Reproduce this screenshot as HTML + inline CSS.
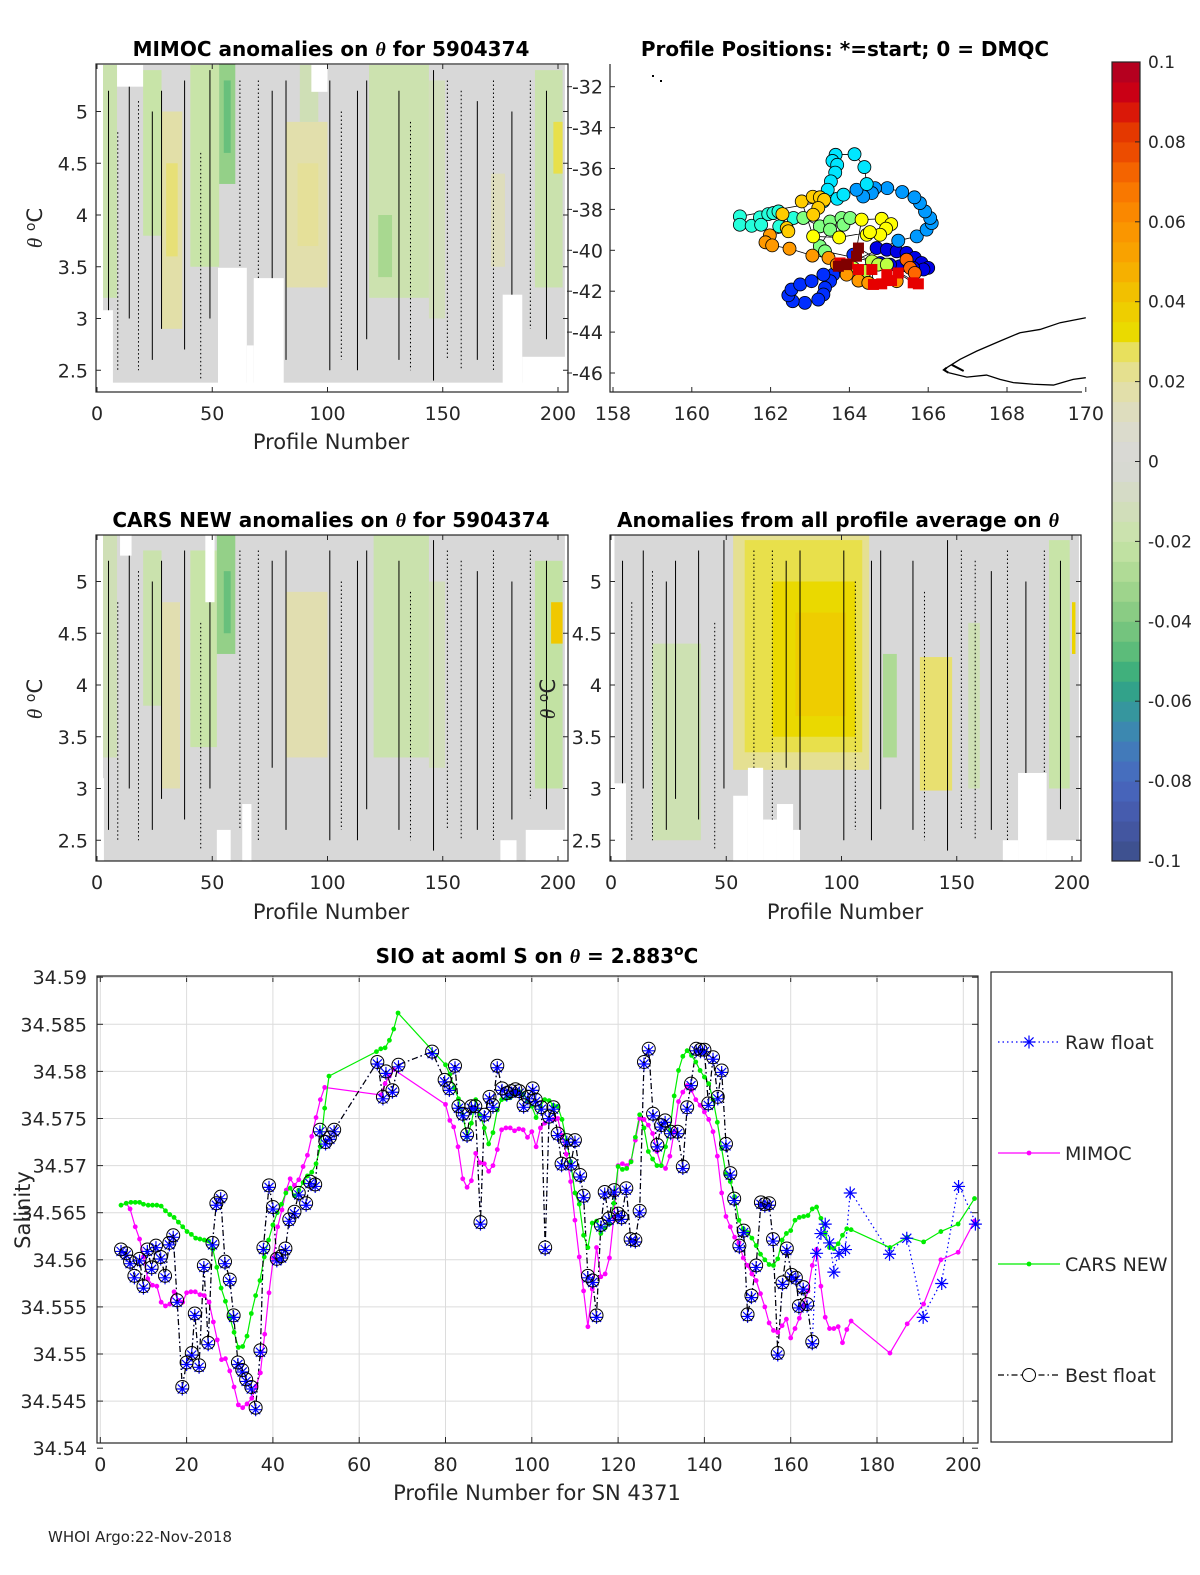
<!DOCTYPE html>
<html><head><meta charset="utf-8"><style>
html,body{margin:0;padding:0;background:#fff;overflow:hidden;width:1200px;height:1575px}
svg{display:block}
svg text{font-family:"DejaVu Sans","Liberation Sans",sans-serif;fill:#262626}
.t{font-weight:bold;font-size:20px;fill:#000}
</style></head><body>
<svg id="fig" width="1200" height="1575" viewBox="0 0 1200 1575" xmlns="http://www.w3.org/2000/svg">
<rect width="1200" height="1575" fill="#fff"/>
<g id="p1"></g>
<g id="p2"></g>
<g id="p3"></g>
<g id="p4"></g>
<g id="cb"></g>
<g id="sal"></g>
<text x="331" y="56" text-anchor="middle" class="t">MIMOC anomalies on <tspan font-style="italic" font-family="Liberation Serif">θ</tspan>  for 5904374</text>
<text x="845" y="56" text-anchor="middle" class="t">Profile Positions: *=start; 0 = DMQC</text>
<text x="331" y="527" text-anchor="middle" class="t">CARS NEW anomalies on <tspan font-style="italic" font-family="Liberation Serif">θ</tspan> for 5904374</text>
<text x="838" y="527" text-anchor="middle" class="t">Anomalies from all profile average on <tspan font-style="italic" font-family="Liberation Serif">θ</tspan></text>
<text x="537" y="963" text-anchor="middle" class="t">SIO at aoml S on <tspan font-style="italic" font-family="Liberation Serif">θ</tspan> = 2.883<tspan dy="-8" font-size="14">o</tspan><tspan dy="8">C</tspan></text>
<text x="331" y="449" text-anchor="middle" font-size="21">Profile Number</text>
<text x="331" y="919" text-anchor="middle" font-size="21">Profile Number</text>
<text x="845" y="919" text-anchor="middle" font-size="21">Profile Number</text>
<text x="537" y="1500" text-anchor="middle" font-size="21">Profile Number for SN 4371</text>
<text transform="translate(42,228) rotate(-90)" text-anchor="middle" font-size="21"><tspan font-style="italic" font-family="Liberation Serif">θ</tspan> <tspan dy="-7" font-size="14">o</tspan><tspan dy="7">C</tspan></text>
<text transform="translate(42,699) rotate(-90)" text-anchor="middle" font-size="21"><tspan font-style="italic" font-family="Liberation Serif">θ</tspan> <tspan dy="-7" font-size="14">o</tspan><tspan dy="7">C</tspan></text>
<text transform="translate(555,699) rotate(-90)" text-anchor="middle" font-size="21"><tspan font-style="italic" font-family="Liberation Serif">θ</tspan> <tspan dy="-7" font-size="14">o</tspan><tspan dy="7">C</tspan></text>
<text transform="translate(30,1210) rotate(-90)" text-anchor="middle" font-size="21">Salinity</text>
<text x="48" y="1542" font-size="15" fill="#000">WHOI Argo:22-Nov-2018</text>
</svg>
<script>
// ===== Salinity chart data =====
const bestX=[4.8,6,6.9,7.9,9.1,10,10.9,11.9,12.9,14,15,16,16.9,17.8,19,20,21.2,21.9,22.9,24,25,26,26.9,27.9,28.9,30,30.9,31.9,32.9,33.8,35,36,37.1,37.8,39.1,40,40.9,42,42.9,43.8,45,46,47.7,48.6,49.8,50.9,52.2,53.2,54.2,64.2,65.5,66.2,67.7,69.1,76.9,79.8,80.9,82.2,83,84,85,86,86.9,88.1,89,90.2,91,92,93.1,94.2,95.2,96.2,97.1,98.1,99.1,100.2,100.9,102.2,103.1,104,105,106,106.9,108.1,109.1,110,111.2,112,113,114.1,115,116,116.9,117.9,119.1,120,120.8,121.9,122.9,124,125,126,127.1,128.1,129.1,130,130.9,132.2,133.8,135,136,136.9,138.1,139.1,140,140.9,142,143.1,144,145,146,146.9,148.1,149.1,150,150.9,152,153.1,154,155,155.9,157,158.1,159.1,160.2,161.2,161.9,162.9,163.8,165];
const bestV=[34.5611,34.5607,34.5598,34.5583,34.5601,34.5572,34.5611,34.5592,34.5615,34.5603,34.5583,34.5618,34.5626,34.5557,34.5465,34.5491,34.5501,34.5543,34.5488,34.5594,34.5512,34.5618,34.566,34.5667,34.5598,34.5579,34.5541,34.5491,34.5483,34.5473,34.5465,34.5443,34.5504,34.5613,34.5679,34.5656,34.5601,34.5604,34.5612,34.5643,34.5651,34.5671,34.566,34.5683,34.568,34.5738,34.5725,34.573,34.5738,34.581,34.5773,34.58,34.578,34.5807,34.5821,34.5791,34.5782,34.5806,34.5763,34.5755,34.5733,34.5763,34.5763,34.564,34.5754,34.5773,34.5764,34.5806,34.5782,34.5777,34.5779,34.5781,34.5779,34.5764,34.5773,34.5782,34.577,34.5762,34.5613,34.5752,34.5762,34.5734,34.5702,34.5727,34.5702,34.5727,34.569,34.5668,34.5583,34.5578,34.5541,34.5637,34.5672,34.5644,34.5674,34.5649,34.5645,34.5676,34.5622,34.5621,34.5652,34.581,34.5824,34.5755,34.5722,34.5743,34.5748,34.5736,34.5736,34.5699,34.5762,34.5787,34.5824,34.5823,34.5823,34.5766,34.5815,34.5773,34.5801,34.5723,34.5692,34.5665,34.5615,34.5631,34.5542,34.5562,34.5594,34.5661,34.5659,34.566,34.5622,34.5501,34.5576,34.5612,34.5584,34.5581,34.5551,34.5571,34.5553,34.5513];
const rawX=bestX.concat([166,167,168,169,170,171.2,172.7,173.8,182.9,186.9,190.7,195,198.9,202.8]);
const rawV=bestV.concat([34.5609,34.563,34.564,34.562,34.5589,34.5609,34.5613,34.5673,34.5608,34.5625,34.5541,34.5577,34.568,34.564]);
const mimX=[6,6.9,8.1,9.1,10,11,12.1,13.1,14.1,15.1,16.1,17.1,18.1,19.1,20,21,22,23.1,24.1,25.2,26.2,27.1,28.1,29,30,31,32,33,34,35.1,36.1,37.1,38.1,39.1,40.1,41.1,42.1,43.1,44,45,46,47,48,49,50,51,52,65,66,67,68,80,81,81.9,82.9,84,85,86,87,88,89,90,91,92,93,94,95,96,97,98,99,100,101,102,103,104,105,106,107,108,109,110,111,112,113,114,115,116,117,118,119,120,121,122,123,124,125,126,127,128,129,130,131,132,133,134,135,136,137,138,139,140,141,142,143,144,145,146,147,148,149,150,151,152,153,154,155,156,157,158,159,160,161,162,163,164,165,166,167,168,169,170,171,172,173,174,183,187,190.8,194.8,198.8,202.6];
const mimV=[34.566,34.5654,34.5635,34.5622,34.5603,34.558,34.5573,34.5572,34.5555,34.5551,34.5553,34.5566,34.5557,34.5555,34.5565,34.5566,34.5566,34.5563,34.5562,34.5555,34.5534,34.5515,34.5494,34.5495,34.5482,34.5465,34.5446,34.5443,34.5447,34.5453,34.5466,34.548,34.5521,34.5565,34.5602,34.5635,34.5653,34.5674,34.5686,34.5679,34.5685,34.5699,34.5711,34.5731,34.5751,34.577,34.5783,34.5775,34.5787,34.5795,34.5802,34.5765,34.5748,34.5741,34.572,34.5686,34.5677,34.5684,34.5713,34.5703,34.5702,34.5694,34.57,34.5717,34.5738,34.574,34.574,34.5737,34.5739,34.5738,34.573,34.5736,34.572,34.574,34.5745,34.5749,34.5749,34.575,34.5732,34.5712,34.5683,34.5642,34.5603,34.5567,34.5529,34.5569,34.5613,34.5582,34.5585,34.5602,34.5645,34.57,34.5702,34.57,34.5705,34.5727,34.575,34.5749,34.5743,34.5734,34.5715,34.57,34.5697,34.571,34.5736,34.5768,34.5778,34.5785,34.578,34.577,34.5764,34.5757,34.5749,34.5736,34.571,34.5671,34.5646,34.5635,34.5624,34.5618,34.5602,34.5594,34.5585,34.5578,34.5564,34.555,34.5533,34.5525,34.5523,34.553,34.5537,34.5517,34.5527,34.5538,34.5552,34.5567,34.5594,34.5611,34.5572,34.5539,34.5527,34.5527,34.5529,34.5512,34.5526,34.5535,34.5501,34.5532,34.5553,34.56,34.5608,34.5641];
const carsX=[4.8,6,7.1,8.1,9.1,10,11.1,12.1,13.1,14.1,15.1,16.1,17.1,18.1,19.1,20.1,21.1,22.1,23.1,24.1,25.1,26.1,27,28,29,30,31,32,33,34,35,36,37,38,39,40,41,42,43,44,45,46,47,48,49,50,51,52,53,64,65,66,67,68,69,80,81,82,83,84,85,86,87,88,89,90,91,92,93,94,95,96,97,98,99,100,101,102,103,104,105,106,107,108,109,110,111,112,113,114,115,116,117,118,119,120,121,122,123,124,125,126,127,128,129,130,131,132,133,134,135,136,137,138,139,140,141,142,143,144,145,146,147,148,149,150,151,152,153,154,155,156,157,158,159,160,161,162,163,164,165,166,167,168,169,170,171,172,173,174,183,187,190.8,194.8,198.8,202.6];
const carsV=[34.5658,34.566,34.5661,34.5661,34.5661,34.5659,34.5658,34.5658,34.5658,34.5657,34.5652,34.5648,34.5645,34.564,34.5635,34.563,34.5627,34.5623,34.5622,34.5621,34.562,34.5611,34.5592,34.557,34.5556,34.5539,34.5523,34.5507,34.5508,34.5519,34.5543,34.5562,34.5578,34.5603,34.5621,34.5637,34.565,34.5659,34.5671,34.5676,34.5668,34.5674,34.5682,34.5689,34.5693,34.5702,34.572,34.5761,34.5795,34.5821,34.5824,34.5825,34.5833,34.5845,34.5862,34.5807,34.5797,34.5783,34.5771,34.5754,34.573,34.5745,34.577,34.5754,34.574,34.5723,34.5735,34.5759,34.577,34.5771,34.5772,34.5776,34.5779,34.5776,34.5769,34.5763,34.5751,34.5763,34.577,34.5769,34.5764,34.5763,34.5749,34.5727,34.5704,34.5671,34.5659,34.5626,34.5613,34.5639,34.5641,34.5628,34.5634,34.5638,34.566,34.5699,34.5696,34.5697,34.5704,34.573,34.5754,34.574,34.5715,34.5707,34.57,34.57,34.572,34.5737,34.5774,34.5801,34.5816,34.5822,34.5817,34.581,34.5801,34.5794,34.5787,34.577,34.5746,34.5718,34.5691,34.5683,34.5667,34.5642,34.5633,34.5629,34.5623,34.5615,34.5606,34.56,34.5595,34.5594,34.5601,34.5621,34.5628,34.5631,34.5642,34.5645,34.5646,34.5647,34.5654,34.5656,34.5644,34.5628,34.5613,34.5612,34.5617,34.5626,34.5633,34.5632,34.5613,34.5624,34.5619,34.563,34.5638,34.5665];
const salYTicks=[34.54,34.545,34.55,34.555,34.56,34.565,34.57,34.575,34.58,34.585,34.59];
const salYLabels=["34.54","34.545","34.55","34.555","34.56","34.565","34.57","34.575","34.58","34.585","34.59"];
const salXTicks=[0,20,40,60,80,100,120,140,160,180,200];
const legendLabels=["Raw float","MIMOC","CARS NEW","Best float"];

// ===== Map data =====
const mapLonTicks=[158,160,162,164,166,168,170];
const mapLatTicks=[-32,-34,-36,-38,-40,-42,-44,-46];
const posLon=[164.69,164.95,165.2,165.45,165.66,165.83,166.0,165.88,165.62,165.28,165.03,164.78,
164.1,163.85,163.59,163.51,163.38,163.34,163.21,162.87,162.56,162.45,162.53,162.75,163.04,163.34,
165.24,165.71,165.96,166.09,166.05,165.92,165.79,165.65,165.34,164.96,164.65,164.57,164.35,164.18,
164.44,164.38,164.13,163.65,163.57,163.69,163.64,163.53,163.45,163.69,163.85,163.34,
161.22,161.22,161.52,161.73,161.76,161.94,162.07,162.2,162.22,162.58,
162.83,163.25,163.51,163.8,163.85,164.02,163.51,163.25,163.38,
164.57,164.73,164.95,164.4,164.1,
164.31,164.82,165.06,164.93,164.78,164.44,164.52,163.74,163.08,
162.79,163.07,163.25,163.36,163.21,163.08,162.3,162.41,162.45,
161.98,161.87,162.04,162.48,163.06,163.47,163.68,163.93,164.23,164.48,165.2,165.45,165.54,165.66,
163.76,163.97,164.23,164.57,164.61,164.82,164.95,165.07,165.24,165.62,165.75,
164.23,164.18,163.72,163.93];
const posLat=[-39.89,-39.97,-40.05,-40.13,-40.37,-40.62,-40.86,-40.94,-40.86,-40.78,-40.7,-40.62,
-40.21,-40.86,-41.19,-41.51,-41.84,-42.16,-42.41,-42.57,-42.49,-42.2,-41.92,-41.67,-41.51,-41.19,
-39.53,-39.32,-38.99,-38.67,-38.42,-38.1,-37.69,-37.41,-37.15,-36.96,-36.96,-37.2,-37.37,-37.04,
-36.76,-35.93,-35.3,-35.33,-35.63,-35.82,-36.2,-36.63,-37.04,-37.48,-37.28,-37.61,
-38.34,-38.75,-38.8,-38.39,-38.75,-38.23,-38.18,-38.1,-38.83,-38.42,
-38.42,-38.83,-38.59,-38.42,-38.75,-38.42,-38.99,-39.8,-40.05,
-40.54,-40.7,-40.7,-41.02,-40.86,
-38.5,-38.46,-38.72,-38.94,-39.24,-39.24,-39.11,-39.37,-39.32,
-37.61,-37.38,-37.41,-37.53,-37.93,-38.26,-38.23,-38.91,-39.07,
-39.27,-39.61,-39.76,-39.92,-40.26,-40.37,-40.7,-41.19,-41.48,-41.59,-41.51,-40.46,-40.86,-41.11,
-40.62,-40.67,-40.94,-40.94,-41.67,-41.64,-41.19,-41.48,-41.11,-41.59,-41.64,
-39.89,-40.29,-40.78,-40.7];
const posVal=[-0.08,-0.08,-0.08,-0.08,-0.08,-0.08,-0.08,-0.08,-0.08,-0.08,-0.08,-0.08,
-0.066,-0.066,-0.066,-0.066,-0.066,-0.066,-0.066,-0.066,-0.066,-0.066,-0.066,-0.066,-0.066,-0.066,
-0.045,-0.045,-0.045,-0.045,-0.045,-0.045,-0.045,-0.045,-0.045,-0.045,-0.045,-0.045,-0.045,-0.045,
-0.03,-0.03,-0.03,-0.03,-0.03,-0.03,-0.03,-0.03,-0.03,-0.03,-0.03,-0.03,
-0.018,-0.018,-0.018,-0.018,-0.018,-0.018,-0.018,-0.018,-0.018,-0.018,
0,0,0,0,0,0,0,0,0,
0.012,0.012,0.012,0.012,0.012,
0.025,0.025,0.025,0.025,0.025,0.025,0.025,0.025,0.025,
0.035,0.035,0.035,0.035,0.035,0.035,0.035,0.035,0.035,
0.045,0.045,0.045,0.045,0.045,0.045,0.045,0.045,0.045,0.045,0.045,0.055,0.055,0.055,
0.08,0.08,0.08,0.08,0.08,0.08,0.08,0.08,0.08,0.08,0.08,
0.1,0.1,0.1,0.1];
const coastUpLon=[166.47,166.81,167.23,167.82,168.33,168.84,169.35,170.0];
const coastUpLat=[-45.74,-45.33,-44.93,-44.44,-44.03,-43.87,-43.54,-43.3];
const coastLoLon=[166.51,166.98,167.48,167.82,168.16,168.67,169.18,169.68,170.0];
const coastLoLat=[-45.98,-46.2,-46.1,-46.31,-46.47,-46.55,-46.59,-46.31,-46.23];

// ===== Anomaly heatmap patches: [p0,p1,theta0,theta1,value] =====
const p1Base=[[2.6,203,2.38,5.45,0]];
const p1Patches=[[2.6,8.7,3.2,5.45,-0.018],[20,28,3.8,5.4,-0.02],[40.5,53,3.5,5.45,-0.02],[53,60,4.3,5.5,-0.035],[55,58,4.6,5.3,-0.045],[28,37,2.9,5.0,0.018],[30,35,3.6,4.5,0.026],[82,100,3.3,4.9,0.017],[87,96,3.7,4.5,0.021],[118,144,3.2,5.45,-0.017],[122,128,3.4,4.0,-0.03],[144,151,3.0,5.3,-0.012],[171,177,3.5,4.4,0.013],[190,202,3.3,5.4,-0.018],[198,202,4.4,4.9,0.028],[88,96,4.9,5.45,-0.014]];
const p1Gaps=[[8.7,20,5.24,5.6],[93,100,5.19,5.6],[2.6,6.9,2.2,3.08],[52.5,65,2.2,3.49],[65,68,2.2,2.74],[68,81,2.2,3.39],[176,184.5,2.2,3.23],[184.5,205,2.2,2.63],[0,2.6,2.2,5.6]];
const p3Base=[[2.6,203,2.3,5.45,0]];
const p3Patches=[[2.6,8.7,3.3,5.45,-0.014],[20,28,3.8,5.3,-0.018],[40.5,52,3.4,5.3,-0.02],[52,60,4.3,5.45,-0.035],[55,58,4.5,5.1,-0.045],[28,36,3.0,4.8,0.016],[82,100,3.3,4.9,0.016],[120,144,3.3,5.45,-0.018],[190,202,3.0,5.2,-0.022],[197,202,4.4,4.8,0.04],[144,151,3.2,5.0,-0.012]];
const p3Gaps=[[0,2.6,2.2,5.6],[0,3,2.2,3.1],[10,15,5.25,5.6],[47,51,4.8,5.6],[52,58,2.2,2.6],[63,67,2.2,2.85],[175,182,2.2,2.5],[186,203,2.2,2.6]];
const p4Base=[[0,203,2.3,5.45,0]];
const p4Patches=[[18,39,2.5,4.4,-0.016],[53,112,3.18,5.45,0.022],[58,109,3.35,5.4,0.028],[70,106,3.5,5.0,0.033],[80,102,3.7,4.7,0.038],[134,148,2.98,4.27,0.027],[118,124,3.3,4.3,-0.028],[190,199,3.0,5.4,-0.02],[200,201.5,4.3,4.8,0.035],[155,160,3.0,4.6,-0.015]];
const p4Gaps=[[0,1.5,2.2,5.6],[1,6.5,2.2,3.05],[53,59.4,2.2,2.93],[59.4,66,2.2,3.2],[66,72,2.2,2.7],[72,79,2.2,2.85],[79,82,2.2,2.6],[170,176.6,2.2,2.5],[176.6,189,2.2,3.15],[189,205,2.2,2.5]];
// contour-line traces: [profile, theta0, theta1, dashed(1)/solid(0)]
const contourSeg=[[5,2.6,5.2,0],[9,2.5,4.8,1],[14,3.0,5.3,0],[18,2.5,5.1,1],[24,2.6,5.0,0],[28,2.9,5.2,0],[38,2.7,5.3,0],[45,2.4,4.6,1],[49,3.0,5.4,0],[62,2.6,5.3,1],[70,2.5,5.3,1],[76,3.2,5.2,0],[82,2.6,5.3,0],[101,2.5,5.3,0],[106,2.6,5.0,1],[113,2.5,5.2,0],[117,2.8,5.3,0],[131,2.6,5.2,0],[136,2.5,4.9,1],[146,2.4,5.4,0],[152,2.6,5.3,1],[158,2.5,5.2,1],[165,2.6,5.1,0],[172,2.5,5.3,1],[180,2.7,5.0,0],[188,2.9,5.3,1],[195,2.8,5.2,0]];
const thetaTicks=[2.5,3,3.5,4,4.5,5];
const profTicks=[0,50,100,150,200];
const cbTicks=[-0.1,-0.08,-0.06,-0.04,-0.02,0,0.02,0.04,0.06,0.08,0.1];
const cbLabels=["-0.1","-0.08","-0.06","-0.04","-0.02","0","0.02","0.04","0.06","0.08","0.1"];

const NS="http://www.w3.org/2000/svg";
function mk(tag,attrs,parent){const e=document.createElementNS(NS,tag);for(const k in attrs)e.setAttribute(k,attrs[k]);parent.appendChild(e);return e;}
const stops=[[-0.1,[60,78,136]],[-0.09,[69,88,168]],[-0.08,[72,104,192]],[-0.07,[64,128,184]],[-0.065,[56,144,168]],[-0.055,[48,168,128]],[-0.05,[80,184,120]],[-0.04,[128,200,128]],[-0.03,[168,216,144]],[-0.02,[200,228,168]],[-0.01,[212,220,192]],[0,[216,216,216]],[0.01,[220,220,200]],[0.02,[228,224,160]],[0.027,[232,224,112]],[0.03,[232,224,0]],[0.04,[240,200,0]],[0.05,[248,168,0]],[0.06,[250,144,0]],[0.07,[248,112,0]],[0.08,[232,64,0]],[0.085,[224,48,0]],[0.09,[212,0,16]],[0.1,[170,0,36]]];
function cmap(v){v=Math.max(-0.1,Math.min(0.1,v));for(let i=0;i<stops.length-1;i++){const a=stops[i],b=stops[i+1];if(v<=b[0]){const t=(v-a[0])/(b[0]-a[0]);const c=a[1].map((x,j)=>Math.round(x+(b[1][j]-x)*t));return `rgb(${c[0]},${c[1]},${c[2]})`;}}return "rgb(170,0,36)";}
function jet(v){const t=(v+0.1)/0.2;const r=Math.max(0,Math.min(1,1.5-Math.abs(4*t-3))),g=Math.max(0,Math.min(1,1.5-Math.abs(4*t-2))),b=Math.max(0,Math.min(1,1.5-Math.abs(4*t-1)));return `rgb(${Math.round(r*255)},${Math.round(g*255)},${Math.round(b*255)})`;}

// ===== anomaly panels =====
function anomalyPanel(gid,L,R,T,B,xp0,yth4,base,patches,gaps,tickLabelX){
  const g=document.getElementById(gid);
  const sx=p=>xp0+p*2.305, sy=th=>yth4-(th-4)*103.5;
  const clip=mk('clipPath',{id:gid+'c'},g);mk('rect',{x:L,y:T,width:R-L,height:B-T},clip);
  const d=mk('g',{'clip-path':`url(#${gid}c)`},g);
  base.concat(patches).forEach(p=>{const r=mk('rect',{x:sx(p[0]),y:sy(p[3]),width:sx(p[1])-sx(p[0]),height:sy(p[2])-sy(p[3]),fill:cmap(p[4])},d);
    
    });
  contourSeg.forEach(c=>{const x=sx(c[0]);const l=mk('line',{x1:x,x2:x,y1:sy(c[2]),y2:sy(c[1]),stroke:'#000','stroke-width':1,'stroke-dasharray':c[3]?'1.5 2.5':'none'},d);
    
    });
  gaps.forEach(p=>{const r=mk('rect',{x:sx(p[0]),y:sy(p[3]),width:sx(p[1])-sx(p[0]),height:sy(p[2])-sy(p[3]),fill:'#fff'},d);
    
    });
  mk('rect',{x:L,y:T,width:R-L,height:B-T,fill:'none',stroke:'#262626','stroke-width':1.2},g);
  profTicks.forEach(p=>{const x=sx(p);mk('line',{x1:x,x2:x,y1:B,y2:B-5,stroke:'#262626'},g);mk('line',{x1:x,x2:x,y1:T,y2:T+5,stroke:'#262626'},g);
    const t=mk('text',{x:x,y:B+28,'text-anchor':'middle','font-size':19},g);t.textContent=p;
    
    });
  thetaTicks.forEach(th=>{const y=sy(th);mk('line',{x1:L,x2:L+5,y1:y,y2:y,stroke:'#262626'},g);mk('line',{x1:R,x2:R-5,y1:y,y2:y,stroke:'#262626'},g);
    const t=mk('text',{x:tickLabelX,y:y+7,'text-anchor':'end','font-size':19},g);t.textContent=th;
    
    });
}
anomalyPanel('p1',96,568,64,392,97,215,p1Base,p1Patches,p1Gaps,88);
anomalyPanel('p3',96,568,535,861,97,685,p3Base,p3Patches,p3Gaps,88);
anomalyPanel('p4',610,1081,535,861,611,685,p4Base,p4Patches,p4Gaps,602);

// ===== map =====
(function(){
  const g=document.getElementById('p2');
  const L=610,R=1082,T=64,B=392;
  const sx=lon=>613+(lon-158)*39.4, sy=lat=>86.7-(lat+32)*20.45;
  mk('path',{d:'M'+L+','+T+'V'+B+'H'+R,fill:'none',stroke:'#262626','stroke-width':1.2},g);
  mapLonTicks.forEach(v=>{const x=sx(v);mk('line',{x1:x,x2:x,y1:B,y2:B-5,stroke:'#262626'},g);const t=mk('text',{x:x,y:B+28,'text-anchor':'middle','font-size':19},g);t.textContent=v;
    
    });
  mapLatTicks.forEach(v=>{const y=sy(v);mk('line',{x1:L,x2:L+5,y1:y,y2:y,stroke:'#262626'},g);const t=mk('text',{x:603,y:y+7,'text-anchor':'end','font-size':19},g);t.textContent=v;mk('line',{x1:567,x2:572,y1:y,y2:y,stroke:'#262626'},g);
    
    });
  let pts=posLon.map((v,i)=>sx(v)+','+sy(posLat[i])).join(' ');
  const pl=mk('polyline',{points:pts,fill:'none',stroke:'#000','stroke-width':0.8},g);
  
  
  posLon.forEach((v,i)=>{let e;
    if(posVal[i]>=0.075){e=mk('rect',{x:sx(v)-5.5,y:sy(posLat[i])-5.5,width:11,height:11,fill:jet(posVal[i])},g);}
    else{e=mk('circle',{cx:sx(v),cy:sy(posLat[i]),r:6.5,fill:jet(posVal[i]),stroke:'#000','stroke-width':0.8},g);}
    
    });
  const c1=mk('polyline',{points:coastUpLon.map((v,i)=>sx(v)+','+sy(coastUpLat[i])).join(' '),fill:'none',stroke:'#000','stroke-width':1.3},g);
  
  
  const c2=mk('polyline',{points:coastLoLon.map((v,i)=>sx(v)+','+sy(coastLoLat[i])).join(' '),fill:'none',stroke:'#000','stroke-width':1.3},g);
  
  
  mk('path',{d:`M${sx(166.47)},${sy(-45.74)}L${sx(166.4)},${sy(-45.85)}L${sx(166.51)},${sy(-45.98)}M${sx(166.6)},${sy(-45.6)}L${sx(166.9)},${sy(-45.9)}`,stroke:'#000','stroke-width':2,fill:'none'},g);
  mk('rect',{x:652,y:75,width:2,height:2,fill:'#000'},g);mk('rect',{x:660,y:80,width:2,height:2,fill:'#000'},g);
})();

// ===== colorbar =====
(function(){
  const g=document.getElementById('cb');
  const L=1112,W=28,T=62,B=861;const sy=v=>B-(v+0.1)/0.2*(B-T);
  for(let i=0;i<40;i++){const v0=-0.1+i*0.005;const r=mk('rect',{x:L,y:sy(v0+0.005),width:W,height:sy(v0)-sy(v0+0.005)+0.5,fill:cmap(v0+0.0025)},g);
    
    }
  mk('rect',{x:L,y:T,width:W,height:B-T,fill:'none',stroke:'#262626','stroke-width':1.2},g);
  cbTicks.forEach((v,i)=>{const y=sy(v);mk('line',{x1:L+W,x2:L+W-5,y1:y,y2:y,stroke:'#262626'},g);const t=mk('text',{x:1148,y:y+6,'font-size':17},g);t.textContent=cbLabels[i];
    
    });
})();

// ===== salinity chart =====
(function(){
  const g=document.getElementById('sal');
  const L=97,R=978,T=976,B=1443;
  const sx=x=>100.3+x*4.315, sy=v=>1024.3+(34.585-v)*9420;
  salXTicks.forEach(x=>{const X=sx(x);mk('line',{x1:X,x2:X,y1:T,y2:B,stroke:'#dcdcdc'},g);mk('line',{x1:X,x2:X,y1:B,y2:B-6,stroke:'#262626'},g);mk('line',{x1:X,x2:X,y1:T,y2:T+6,stroke:'#262626'},g);
    const t=mk('text',{x:X,y:B+28,'text-anchor':'middle','font-size':19},g);t.textContent=x;
    
    });
  salYTicks.forEach((v,i)=>{const Y=sy(v);if(Y>T+1&&Y<B-1)mk('line',{x1:L,x2:R,y1:Y,y2:Y,stroke:'#dcdcdc'},g);mk('line',{x1:L,x2:L+6,y1:Y,y2:Y,stroke:'#262626'},g);mk('line',{x1:R,x2:R-6,y1:Y,y2:Y,stroke:'#262626'},g);
    const t=mk('text',{x:87,y:Y+7,'text-anchor':'end','font-size':19},g);t.textContent=salYLabels[i];
    
    });
  mk('rect',{x:L,y:T,width:R-L,height:B-T,fill:'none',stroke:'#262626','stroke-width':1.2},g);
  const line=(xs,vs,attrs,name)=>{const p=mk('polyline',Object.assign({points:xs.map((x,i)=>sx(x)+','+sy(vs[i])).join(' '),fill:'none'},attrs),g);
    
    };
  line(rawX,rawV,{stroke:'#0000ff','stroke-width':1.2,'stroke-dasharray':'1.5 3'},'raw-float-line');
  line(mimX,mimV,{stroke:'#ff00ff','stroke-width':1.2},'mimoc-line');
  line(carsX,carsV,{stroke:'#00ee00','stroke-width':1.2},'cars-new-line');
  line(bestX,bestV,{stroke:'#000','stroke-width':1.2,'stroke-dasharray':'6 3 1.5 3'},'best-float-line');
  mimX.forEach((x,i)=>{const c=mk('circle',{cx:sx(x),cy:sy(mimV[i]),r:2.4,fill:'#ff00ff'},g);
    
    });
  carsX.forEach((x,i)=>{const c=mk('circle',{cx:sx(x),cy:sy(carsV[i]),r:2.4,fill:'#00ee00'},g);
    
    });
  const star=(cx,cy,s)=>`M${cx-s},${cy}H${cx+s}M${cx},${cy-s}V${cy+s}M${cx-s*.7},${cy-s*.7}L${cx+s*.7},${cy+s*.7}M${cx-s*.7},${cy+s*.7}L${cx+s*.7},${cy-s*.7}`;
  rawX.forEach((x,i)=>{const p=mk('path',{d:star(sx(x),sy(rawV[i])+2,6.5),stroke:'#0000ff','stroke-width':1.2,fill:'none'},g);
    
    });
  bestX.forEach((x,i)=>{const c=mk('circle',{cx:sx(x),cy:sy(bestV[i]),r:6.5,fill:'none',stroke:'#000','stroke-width':1},g);
    
    
    mk('circle',{cx:sx(x),cy:sy(bestV[i]),r:1,fill:'#000'},g);});
  const lg=mk('g',{},g);
  
  
  mk('rect',{x:991,y:972,width:181,height:470,fill:'#fff',stroke:'#262626','stroke-width':1.2},lg);
  const ys=[1042,1153,1264,1375];
  const styles=[{stroke:'#0000ff','stroke-dasharray':'1.5 3'},{stroke:'#ff00ff'},{stroke:'#00ee00'},{stroke:'#000','stroke-dasharray':'6 3 1.5 3'}];
  legendLabels.forEach((lab,i)=>{const y=ys[i];mk('line',Object.assign({x1:998,x2:1060,y1:y,y2:y,'stroke-width':1.2},styles[i]),lg);
    if(i==0)mk('path',{d:star(1029,y,6.5),stroke:'#0000ff','stroke-width':1.2},lg);
    if(i==1||i==2)mk('circle',{cx:1029,cy:y,r:2.4,fill:styles[i].stroke},lg);
    if(i==3){mk('circle',{cx:1029,cy:y,r:6.5,fill:'#fff',stroke:'#000'},lg);}
    const t=mk('text',{x:1065,y:y+7,'font-size':19},lg);t.textContent=lab;
    
    });
})();
</script>
</body></html>
